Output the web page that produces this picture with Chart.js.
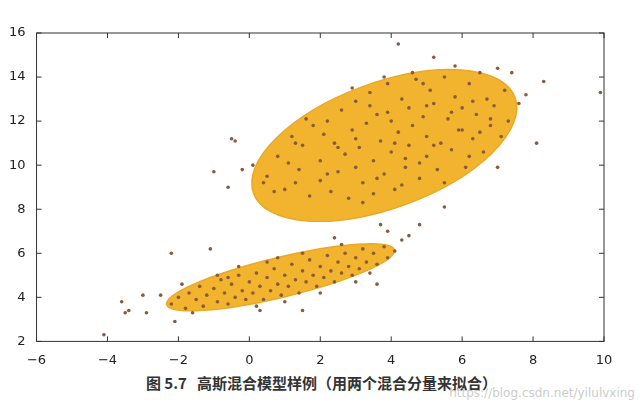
<!DOCTYPE html>
<html><head><meta charset="utf-8">
<script src="https://cdn.jsdelivr.net/npm/chart.js@4"></script>
<style>
body{margin:0;background:#fff;width:643px;height:410px;position:relative;overflow:hidden;font-family:"Noto Sans CJK SC",sans-serif}
#wrap{position:absolute;left:0;top:0;width:643px;height:371px}
#cap{position:absolute;left:0;width:643px;top:372px;text-align:center;font-weight:bold;font-size:15px;color:#333}
#wm{position:absolute;right:8px;top:386px;font-size:12px;color:#ccc;font-family:"DejaVu Sans"}
</style></head><body>
<div id="wrap"><canvas id="c"></canvas></div>
<div id="cap">图 5.7&nbsp;&nbsp;&nbsp;高斯混合模型样例（用两个混合分量来拟合）</div>
<div id="wm">https://blog.csdn.net/yilulvxing</div>
<script>
const xTicks=[-6,-4,-2,0,2,4,6,8,10];
const yTicks=[2,4,6,8,10,12,14,16];
// ellipses: major axis endpoints (data) and minor/major ratio
const ellipseA=[[0.12,8.72],[7.49,13.07]], ratioA=0.45;
const ellipseB=[[-2.33,3.67],[4.09,6.15]], ratioB=0.17;
const clusterBig=[
[0.5,9.5],[0.8,10.4],[1.0,8.9],[1.2,11.3],[1.4,9.8],[1.5,10.9],[1.7,8.6],[1.8,11.8],[2.0,9.3],[2.0,10.2],
[2.2,12.0],[2.3,8.8],[2.4,11.0],[2.5,9.7],[2.6,12.5],[2.7,10.5],[2.8,8.5],[2.9,11.6],[3.0,9.9],[3.0,12.9],
[3.1,10.8],[3.2,9.2],[3.3,11.9],[3.4,13.3],[3.5,10.2],[3.5,8.7],[3.6,12.3],[3.7,11.1],[3.8,9.6],[3.9,13.7],
[4.0,10.6],[4.0,12.0],[4.1,8.9],[4.2,11.5],[4.3,13.0],[4.4,9.9],[4.5,12.6],[4.5,10.9],[4.6,11.8],[4.7,13.9],
[4.8,9.4],[4.9,12.2],[5.0,10.4],[5.0,11.3],[5.1,13.4],[5.2,12.8],[5.3,9.8],[5.4,11.0],[5.5,14.0],[5.6,12.1],
[5.7,10.7],[5.8,13.1],[5.9,11.6],[6.0,12.6],[6.1,9.9],[6.2,13.7],[6.3,11.2],[6.4,12.3],[6.5,14.2],[6.6,10.6],
[6.7,13.0],[6.8,11.8],[6.9,12.7],[7.0,14.4],[7.1,11.3],[7.2,13.4],[7.3,12.0],[7.4,14.2],[6.2,10.4],[5.5,9.2],
[4.3,9.1],[3.2,8.3],[2.1,11.4],[1.6,12.1],[1.1,10.1],[0.7,8.8],[2.9,13.5],[3.8,14.0],[4.6,14.2],[5.8,14.5],
[3.4,12.7],[4.8,10.1],[5.2,10.9],[6.0,11.6],[2.5,10.8],[3.6,9.4],[4.1,11.0],[4.4,10.3],[5.0,12.7],[5.7,12.4],
[6.3,12.9],[6.8,12.1],[7.6,12.8],[7.8,13.2],[3.0,11.2],[2.2,9.6],[1.3,9.2],[3.9,12.4],[4.9,13.7],[6.5,11.5],
[-1.0,9.7],[-0.6,9.0],[-0.5,11.2],[-0.4,11.1],[-0.2,9.8],[0.1,10.0],[0.4,9.2],[4.2,15.5],[5.2,14.9],[8.3,13.8],
[9.9,13.3],[8.1,11.0],[5.5,8.1],[7.0,9.9],[1.3,11.0]];
const clusterSmall=[
[-2.2,3.7],[-2.0,4.0],[-1.8,3.5],[-1.7,4.2],[-1.5,3.9],[-1.4,4.5],[-1.3,3.6],[-1.2,4.1],[-1.0,4.4],[-0.9,3.8],
[-0.8,4.8],[-0.7,4.2],[-0.6,3.7],[-0.5,4.6],[-0.4,4.0],[-0.3,5.0],[-0.2,4.3],[-0.1,3.9],[0.0,4.7],[0.1,4.2],
[0.2,5.1],[0.3,4.5],[0.4,3.9],[0.5,4.9],[0.6,4.3],[0.7,5.3],[0.8,4.6],[0.9,4.1],[1.0,5.0],[1.1,4.5],
[1.2,5.5],[1.3,4.8],[1.4,4.2],[1.5,5.2],[1.6,4.7],[1.7,5.7],[1.8,5.0],[1.9,4.5],[2.0,5.4],[2.1,4.9],
[2.2,5.9],[2.3,5.2],[2.4,4.7],[2.5,5.6],[2.6,5.1],[2.7,6.0],[2.8,5.4],[2.9,5.0],[3.0,5.8],[3.1,5.3],
[3.2,6.2],[3.3,5.6],[3.4,5.1],[3.5,6.0],[3.6,5.5],[3.8,6.3],[3.9,5.8],[4.1,6.1],[-1.6,3.3],[-0.9,5.0],
[0.2,3.6],[1.0,3.8],[2.0,4.2],[0.5,5.6],[1.5,6.0],[-0.3,5.4],[2.6,6.4],[3.0,4.7],[-0.6,4.9],[0.8,5.8],
[-4.1,2.3],[-3.6,3.8],[-3.5,3.3],[-3.4,3.4],[-3.0,4.1],[-2.9,3.3],[-2.2,6.0],[-1.1,6.2],[-2.1,2.9],[1.5,3.4],
[0.3,3.4],[4.8,7.3],[4.5,6.8],[3.7,7.3],[3.9,7.0],[4.3,6.6],[3.6,4.6],[-2.5,4.1],[-1.9,4.6],[2.4,6.7]];

const ellPlugin={id:'ell',beforeDatasetsDraw(ch){
  const {ctx,scales:{x,y}}=ch;
  [[ellipseA,ratioA],[ellipseB,ratioB]].forEach(([e,r])=>{
    const x1=x.getPixelForValue(e[0][0]),y1=y.getPixelForValue(e[0][1]);
    const x2=x.getPixelForValue(e[1][0]),y2=y.getPixelForValue(e[1][1]);
    const cx=(x1+x2)/2,cy=(y1+y2)/2,a=Math.hypot(x2-x1,y2-y1)/2,ang=Math.atan2(y2-y1,x2-x1);
    ctx.save();ctx.beginPath();ctx.ellipse(cx,cy,a,a*r,ang,0,Math.PI*2);
    ctx.fillStyle='#f2b42e';ctx.fill();ctx.lineWidth=1.5;ctx.strokeStyle='#eaa823';ctx.stroke();ctx.restore();
  });
},afterDraw(ch){
  const {ctx,chartArea:a,scales:{x,y}}=ch;
  ctx.save();ctx.strokeStyle='#333';ctx.lineWidth=1;ctx.strokeRect(a.left,a.top,a.right-a.left,a.bottom-a.top);
  ctx.beginPath();
  xTicks.forEach(v=>{const p=x.getPixelForValue(v);ctx.moveTo(p,a.bottom);ctx.lineTo(p,a.bottom-5);ctx.moveTo(p,a.top);ctx.lineTo(p,a.top+5);});
  yTicks.forEach(v=>{const p=y.getPixelForValue(v);ctx.moveTo(a.left,p);ctx.lineTo(a.left+5,p);ctx.moveTo(a.right,p);ctx.lineTo(a.right-5,p);});
  ctx.stroke();ctx.restore();
}};
new Chart(document.getElementById('c'),{type:'scatter',
 data:{datasets:[
  {data:clusterBig.map(p=>({x:p[0],y:p[1]})),backgroundColor:'#8a5a3a',borderWidth:0,pointRadius:1.8},
  {data:clusterSmall.map(p=>({x:p[0],y:p[1]})),backgroundColor:'#8a5a3a',borderWidth:0,pointRadius:1.8}]},
 options:{responsive:true,maintainAspectRatio:false,animation:false,
  layout:{padding:{left:6,right:39,top:33,bottom:0}},
  plugins:{legend:{display:false},tooltip:{enabled:false}},
  scales:{
   x:{type:'linear',min:-6,max:10,afterBuildTicks:s=>{s.ticks=xTicks.map(v=>({value:v}))},
      grid:{display:false},border:{display:false},ticks:{color:'#222',font:{size:13,family:'DejaVu Sans'},callback:v=>v<0?'\u2212'+(-v):v,maxRotation:0}},
   y:{type:'linear',min:2,max:16,afterBuildTicks:s=>{s.ticks=yTicks.map(v=>({value:v}))},
      grid:{display:false},border:{display:false},ticks:{color:'#222',font:{size:13,family:'DejaVu Sans'}}}
  }}, plugins:[ellPlugin]});
</script></body></html>
